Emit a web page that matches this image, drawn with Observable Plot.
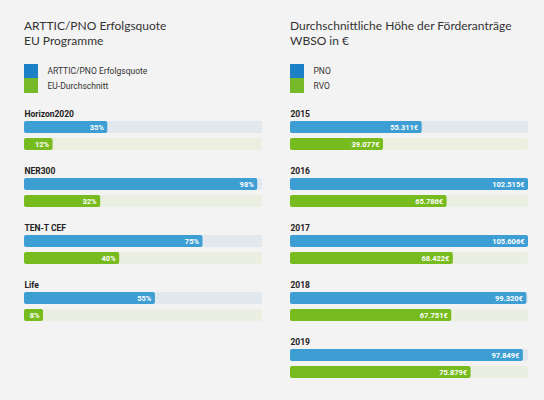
<!DOCTYPE html>
<html><head><meta charset="utf-8">
<script src="https://cdn.jsdelivr.net/npm/d3@7"></script>
<script src="https://cdn.jsdelivr.net/npm/@observablehq/plot@0.6"></script>
<style>
html,body{margin:0;padding:0;background:#f3f3f3;}
body{width:544px;height:400px;overflow:hidden;font-family:Roboto,sans-serif;}
#wrap{display:flex;padding-left:24px;gap:28px;}
.col{width:238px;}
.title{font-family:Lato,sans-serif;font-size:12px;line-height:14.4px;color:#333;margin-top:19.2px;height:44.8px;}
.legend{height:36px;}
.li{display:flex;align-items:center;height:14.5px;font-size:8.5px;color:#333;}
.sw{width:14px;height:14.5px;margin-right:9.5px;}
svg{display:block;overflow:visible;}
</style></head>
<body><div id="wrap"><div class="col" id="left"></div><div class="col" id="right"></div></div>
<script>
// Left panel data
const leftTitle = ["ARTTIC/PNO Erfolgsquote", "EU Programme"];
const leftSeries = ["ARTTIC/PNO Erfolgsquote", "EU-Durchschnitt"];
const leftGroups = ["Horizon2020", "NER300", "TEN-T CEF", "Life"];
const leftA = [35, 98, 75, 55];
const leftB = [12, 32, 40, 8];
const leftMax = 100;

// Right panel data
const rightTitle = ["Durchschnittliche Höhe der Förderanträge", "WBSO in €"];
const rightSeries = ["PNO", "RVO"];
const rightGroups = ["2015", "2016", "2017", "2018", "2019"];
const rightA = [55311, 102515, 105606, 99320, 97849];
const rightB = [39077, 65786, 68422, 67751, 75879];
const rightMax = 100000;

const legendColors = ["#1b80c6", "#78b929"];
const barColors = ["#3d9ed4", "#77bb1f"];
const trackColors = ["#e1e8ee", "#eaefe2"];

function panel(el, title, series, groups, a, b, max, fmt) {
  const t = document.createElement("div");
  t.className = "title";
  t.innerHTML = title.join("<br>");
  el.appendChild(t);
  const lg = document.createElement("div");
  lg.className = "legend";
  series.forEach((s, i) => {
    const r = document.createElement("div");
    r.className = "li";
    r.innerHTML = `<div class="sw" style="background:${legendColors[i]}"></div><span>${s}</span>`;
    lg.appendChild(r);
  });
  el.appendChild(lg);

  const rows = [];
  groups.forEach((g, i) => {
    rows.push({group: g, series: series[0], value: a[i]});
    rows.push({group: g, series: series[1], value: b[i]});
  });
  const step = 57.33, band = 30;
  const n = groups.length;
  const marginTop = 20, marginBottom = 10;
  const height = marginTop + marginBottom + n * step - (step - band);
  const color = d3.scaleOrdinal(series, barColors);
  const track = d3.scaleOrdinal(series, trackColors);
  const chart = Plot.plot({
    width: 238,
    height,
    marginLeft: 0, marginRight: 0, marginTop, marginBottom,
    x: {domain: [0, max], clamp: true, axis: null},
    y: {domain: series, paddingInner: 0.266, paddingOuter: 0, axis: null},
    fy: {domain: groups, paddingInner: (step - band) / step, paddingOuter: 0, axis: null},
    style: {background: "transparent", fontFamily: "Roboto, sans-serif"},
    marks: [
      Plot.barX(rows, {x1: 0, x2: max, y: "series", fy: "group", fill: d => track(d.series), rx: 2}),
      Plot.barX(rows, {x1: 0, x2: "value", y: "series", fy: "group", fill: d => color(d.series), rx: 2}),
      Plot.text(rows, {x: "value", y: "series", fy: "group", text: d => fmt(d.value), textAnchor: "end", dx: -4, fill: "white", fontWeight: "bold", fontSize: 7.5}),
      Plot.text(groups, {fy: d => d, text: d => d, frameAnchor: "top-left", lineAnchor: "bottom", dy: -4, fontWeight: "bold", fontSize: 8.5, fill: "#222"})
    ]
  });
  el.appendChild(chart);
}

const deFmt = v => d3.formatLocale({decimal: ",", thousands: ".", grouping: [3], currency: ["", "€"]}).format(",d")(v) + "€";
panel(document.getElementById("left"), leftTitle, leftSeries, leftGroups, leftA, leftB, leftMax, v => v + "%");
panel(document.getElementById("right"), rightTitle, rightSeries, rightGroups, rightA, rightB, rightMax, deFmt);
</script></body></html>
